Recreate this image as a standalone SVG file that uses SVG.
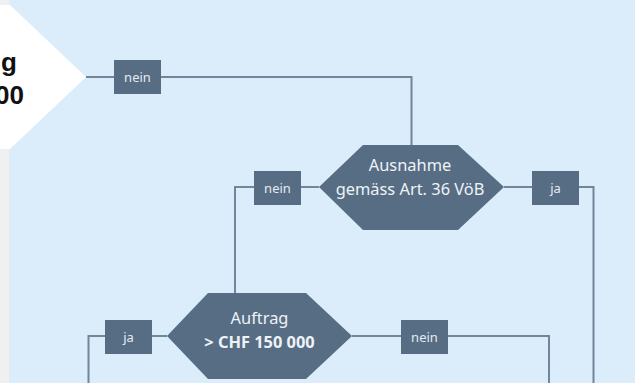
<svg xmlns="http://www.w3.org/2000/svg" width="635" height="383" viewBox="0 0 635 383">
<style>
.bg{fill:#dbedfb}
.box{fill:#576d83}
.hex{fill:#576d83}
.lbl{font-family:"Noto Sans","Open Sans",sans-serif;font-size:13px;fill:#e4ebf2;text-anchor:middle}
.htxt{font-family:"Noto Sans","Open Sans",sans-serif;font-size:16.4px;fill:#eef3f8;text-anchor:middle}
.big{font-family:"Liberation Sans",Arial,sans-serif;font-size:26px;font-weight:bold;fill:#111;text-anchor:end}
.con{fill:none;stroke:#71869b;stroke-width:2}
</style>
<rect x="0" y="0" width="635" height="383" fill="#f0f0f0"/>
<rect class="bg" x="9" y="0" width="626" height="383"/>
<text x="615" y="-4" font-family="Liberation Sans, Arial, sans-serif" font-size="18" fill="#111" text-anchor="end">g</text>

<g id="start">
  <polygon points="-10,5 10,5 86,77 10,149 -10,149" fill="#ffffff"/>
  <text class="big" x="17" y="71">g</text>
  <text class="big" x="24" y="104">00</text>
</g>

<g id="connectors">
  <polyline class="con" points="86,77 411.5,77 411.5,145"/>
  <line class="con" x1="319" y1="187" x2="301" y2="187"/>
  <polyline class="con" points="254,187 235,187 235,293"/>
  <polyline class="con" points="504,187 593.5,187 593.5,383"/>
  <line class="con" x1="167" y1="336" x2="152" y2="336"/>
  <polyline class="con" points="105,336 88.5,336 88.5,383"/>
  <polyline class="con" points="352,336 549,336 549,383"/>
</g>

<g id="label-nein-1">
  <rect class="box" x="114" y="60" width="47" height="34"/>
  <text class="lbl" x="137.5" y="81.5">nein</text>
</g>

<g id="decision-ausnahme">
  <polygon class="hex" points="319,187 363,145 458,145 504,187 458,230 363,230"/>
  <text class="htxt" x="410" y="171">Ausnahme</text>
  <text class="htxt" x="410" y="195">gemäss Art. 36 VöB</text>
</g>

<g id="label-nein-2">
  <rect class="box" x="254" y="171" width="47" height="34"/>
  <text class="lbl" x="277.5" y="192.5">nein</text>
</g>

<g id="label-ja-1">
  <rect class="box" x="532" y="171" width="47" height="34"/>
  <text class="lbl" x="555.5" y="192.5">ja</text>
</g>

<g id="decision-auftrag">
  <polygon class="hex" points="167,336 208,293 306,293 352,336 306,379 208,379"/>
  <text class="htxt" x="259.5" y="324">Auftrag</text>
  <text class="htxt" x="259.5" y="348" font-weight="bold">&gt; CHF 150 000</text>
</g>

<g id="label-ja-2">
  <rect class="box" x="105" y="320" width="47" height="34"/>
  <text class="lbl" x="128.5" y="341.5">ja</text>
</g>

<g id="label-nein-3">
  <rect class="box" x="401" y="320" width="47" height="34"/>
  <text class="lbl" x="424.5" y="341.5">nein</text>
</g>
</svg>
